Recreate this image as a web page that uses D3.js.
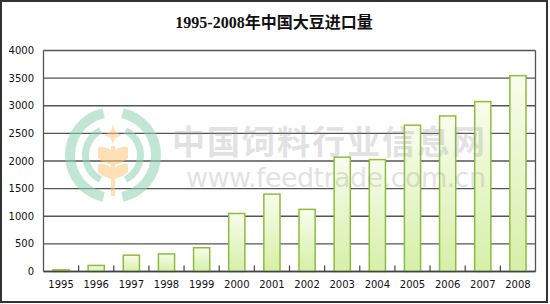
<!DOCTYPE html>
<html>
<head>
<meta charset="utf-8">
<script src="https://cdn.jsdelivr.net/npm/d3@7"></script>
<style>
  body { margin: 0; background: #fff; }
  svg { display: block; }
</style>
</head>
<body>
<div id="chart"></div>
<script>
// data (万吨)
var years = ["1995","1996","1997","1998","1999","2000","2001","2002","2003","2004","2005","2006","2007","2008"];
var imports = [30, 110, 295, 318, 430, 1050, 1400, 1125, 2070, 2025, 2648, 2815, 3075, 3545];
var yTicks = [0, 500, 1000, 1500, 2000, 2500, 3000, 3500, 4000];

var W = 550, H = 304;
var margin = {left: 43.5, right: 14, top: 50.5, bottom: 32.5};

var svg = d3.select("#chart").append("svg")
    .attr("width", W).attr("height", H);

// gradient for bars
var defs = svg.append("defs");
var grad = defs.append("linearGradient").attr("id", "barg")
    .attr("x1", 0).attr("y1", 0).attr("x2", 0).attr("y2", 1);
grad.append("stop").attr("offset", "0%").attr("stop-color", "#f8fdec");
grad.append("stop").attr("offset", "100%").attr("stop-color", "#d6efa8");

// outer frame
svg.append("rect").attr("x", 1).attr("y", 1).attr("width", 546).attr("height", 301)
    .style("fill", "none").style("stroke", "#333").style("stroke-width", 2);

// title
svg.append("text").attr("x", 274).attr("y", 28)
    .attr("text-anchor", "middle")
    .style("font-family", "'Liberation Serif', 'Noto Sans CJK SC', serif")
    .style("font-weight", "bold")
    .style("font-size", "16px")
    .style("fill", "#111")
    .text("1995-2008年中国大豆进口量");

var x = d3.scaleBand().domain(years)
    .range([margin.left, W - margin.right - 0.5])
    .paddingInner(0.54).paddingOuter(0.27);
var y = d3.scaleLinear().domain([0, 4000]).range([H - margin.bottom, margin.top]);

var band = (W - margin.right - 0.5 - margin.left) / years.length;

//gridlines
svg.append("g").selectAll("line").data(yTicks).enter().append("line")
    .attr("x1", margin.left).attr("x2", W - margin.right - 0.5)
    .attr("y1", d => y(d)).attr("y2", d => y(d))
    .style("stroke", "#555").style("stroke-width", 1.3);

// plot frame: left, right
svg.append("line").attr("x1", margin.left).attr("x2", margin.left)
    .attr("y1", y(4000)).attr("y2", y(0)).style("stroke", "#555").style("stroke-width", 1.3);
svg.append("line").attr("x1", W - margin.right - 0.5).attr("x2", W - margin.right - 0.5)
    .attr("y1", y(4000)).attr("y2", y(0)).style("stroke", "#555").style("stroke-width", 1.3);

// watermark logo (behind bars)
var wm = svg.append("g").style("opacity", 0.55);
var ring = d3.arc();
[[38, 48, 0.93, 0.07], [24, 31, 0.85, 0.15]].forEach(function(r) {
  wm.append("path")
      .attr("d", ring({innerRadius: r[0], outerRadius: r[1], startAngle: -Math.PI * r[2], endAngle: -Math.PI * r[3]}))
      .attr("transform", "translate(113,155)").style("fill", "#8fd3b4");
  wm.append("path")
      .attr("d", ring({innerRadius: r[0], outerRadius: r[1], startAngle: Math.PI * r[3], endAngle: Math.PI * r[2]}))
      .attr("transform", "translate(113,155)").style("fill", "#8fd3b4");
});
wm.append("path").attr("d", "M111,150 C104,146 99,146 98,148 L98,158 C101,162 107,163 111,165Z").style("fill", "#fcc77a");
wm.append("path").attr("d", "M115,150 C122,146 127,146 128,148 L128,158 C125,162 119,163 115,165Z").style("fill", "#fcc77a");
wm.append("path").attr("d", "M111,167 C104,163 99,163 98,165 L98,172 C101,176 107,177 111,179Z").style("fill", "#fcc77a");
wm.append("path").attr("d", "M115,167 C122,163 127,163 128,165 L128,172 C125,176 119,177 115,179Z").style("fill", "#fcc77a");
wm.append("rect").attr("x", 111).attr("y", 146).attr("width", 4).attr("height", 50).style("fill", "#fcc77a");
wm.append("path").attr("d", "M113,125 L115.5,132 L122,135 L115.5,138 L113,144 L110.5,138 L104,135 L110.5,132Z").style("fill", "#fcc77a");

// bars
svg.append("g").selectAll("rect").data(imports).enter().append("rect")
    .attr("x", (d, i) => x(years[i]))
    .attr("y", d => y(d))
    .attr("width", x.bandwidth())
    .attr("height", d => y(0) - y(d))
    .style("fill", "url(#barg)")
    .style("stroke", "#8dbd3c")
    .style("stroke-width", 1.5);

// x axis line and ticks (pointing up)
svg.append("line").attr("x1", margin.left).attr("x2", W - margin.right - 0.5)
    .attr("y1", y(0)).attr("y2", y(0)).style("stroke", "#444").style("stroke-width", 1.5);
svg.append("g").selectAll("line").data(d3.range(1, years.length)).enter().append("line")
    .attr("x1", d => margin.left + d * band).attr("x2", d => margin.left + d * band)
    .attr("y1", y(0) - 6).attr("y2", y(0))
    .style("stroke", "#444").style("stroke-width", 1.2);

// labels
svg.append("g").selectAll("text").data(years).enter().append("text")
    .attr("x", d => x(d) + x.bandwidth() / 2)
    .attr("y", H - 16)
    .attr("text-anchor", "middle")
    .style("font-family", "'DejaVu Sans', Verdana, sans-serif")
    .style("font-size", "10px").style("fill", "#111")
    .text(d => d);

svg.append("g").selectAll("text").data(yTicks).enter().append("text")
    .attr("x", 34)
    .attr("y", d => y(d) + 3.5)
    .attr("text-anchor", "end")
    .style("font-family", "'DejaVu Sans', Verdana, sans-serif")
    .style("font-size", "10px").style("fill", "#111")
    .text(d => d);

// watermark text, drawn faintly over everything
var wt = svg.append("g").style("opacity", 0.28).style("fill", "#999")
    .style("font-family", "'Noto Sans CJK SC', sans-serif").style("font-weight", "bold");
wt.append("text").attr("x", 172).attr("y", 154).style("font-size", "33px")
    .attr("textLength", 313).text("中国饲料行业信息网");
wt.append("text").attr("x", 186).attr("y", 187)
    .style("font-family", "'DejaVu Sans', sans-serif").style("font-weight", "normal")
    .style("font-size", "27px").attr("textLength", 300).text("www.feedtrade.com.cn");
</script>
</body>
</html>
